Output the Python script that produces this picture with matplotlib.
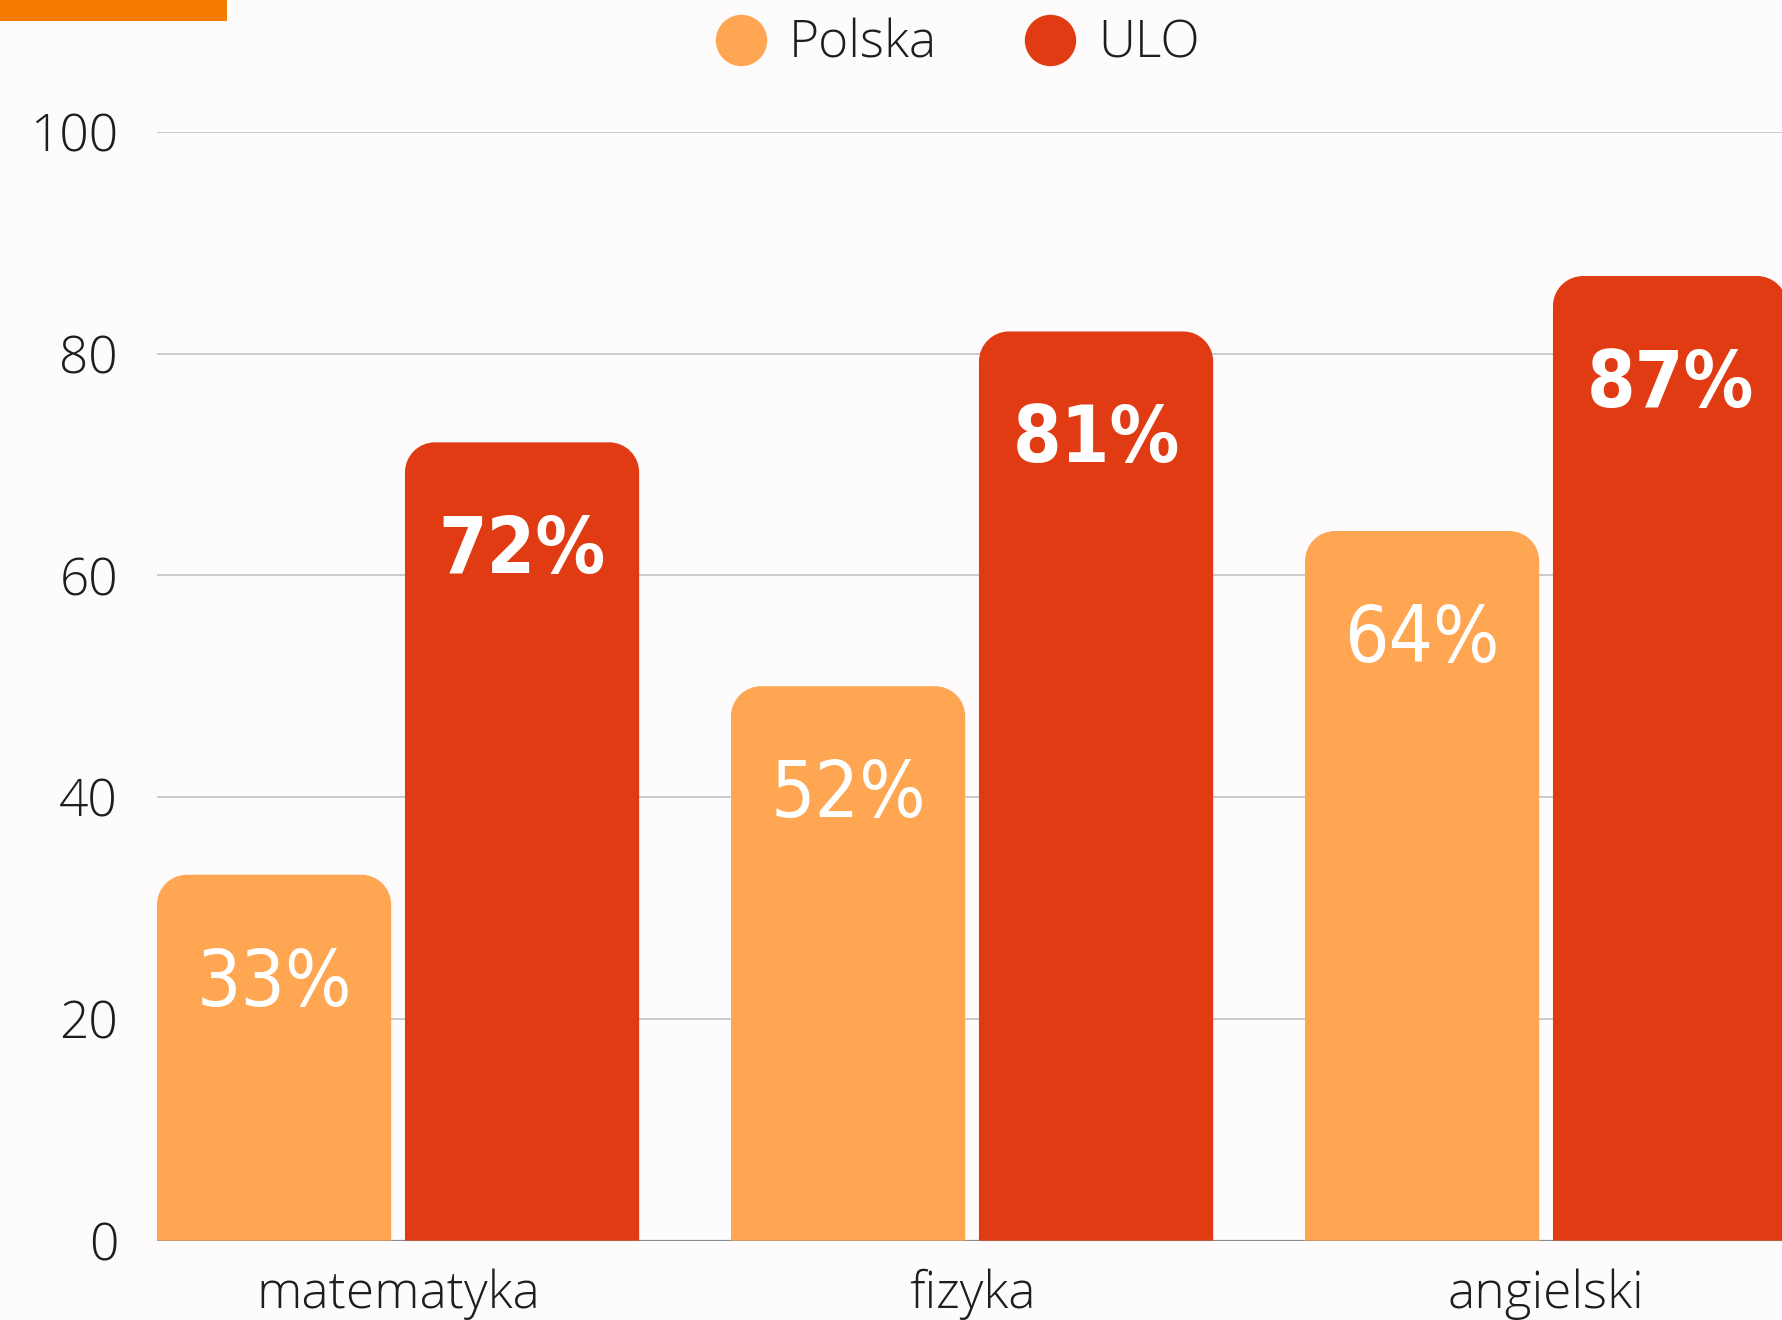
import matplotlib
matplotlib.use("Agg")
import matplotlib.pyplot as plt
import numpy as np
from matplotlib.path import Path
from matplotlib.patches import PathPatch, Rectangle
from matplotlib.lines import Line2D

# ---- data ----
categories = ["matematyka", "fizyka", "angielski"]
series_names = ["Polska", "ULO"]
polska_values = [33, 50, 64]
ulo_values = [72, 82, 87]
polska_labels = ["33%", "52%", "64%"]
ulo_labels = ["72%", "81%", "87%"]
y_ticks = [0, 20, 40, 60, 80, 100]

# ---- style ----
BG = "#fdfbfb"
C_POL = "#ffa652"
C_ULO = "#e03b12"
TICK_FONT = ["Open Sans", "DejaVu Sans"]
LABEL_FONT = ["DejaVu Sans"]

W, H, DPI = 17.83, 13.20, 100
fig = plt.figure(figsize=(W, H), dpi=DPI, facecolor=BG)
ax_left = 157 / 1783
ax_bottom = (1320 - 1240.6) / 1320
ax_h = (1240.6 - 131.9) / 1320
ax = fig.add_axes([ax_left, ax_bottom, 1 - ax_left, ax_h])
ax.set_facecolor(BG)

x = np.arange(len(categories))
bw = 0.408
off = 0.216
bars_p = ax.bar(x - off, polska_values, width=bw, color=C_POL, zorder=3)
bars_u = ax.bar(x + off, ulo_values, width=bw, color=C_ULO, zorder=3)

ax.set_xlim(-0.42, -0.42 + (1783 - 157) / 574.0)
ax.set_ylim(0, 100)

# rounded top corners (radius ~30 px)
px_per_x = (1783 - 157) / (ax.get_xlim()[1] - ax.get_xlim()[0])
px_per_y = (1240.6 - 131.9) / 100
rx = 30 / px_per_x
ry = 30 / px_per_y
k = 0.5523


def rounded_top(rect):
    x0 = rect.get_x()
    x1 = x0 + rect.get_width()
    y0 = rect.get_y()
    h = y0 + rect.get_height()
    verts = [
        (x0, y0), (x0, h - ry),
        (x0, h - ry + k * ry), (x0 + rx - k * rx, h), (x0 + rx, h),
        (x1 - rx, h),
        (x1 - rx + k * rx, h), (x1, h - ry + k * ry), (x1, h - ry),
        (x1, y0), (x0, y0),
    ]
    codes = [Path.MOVETO, Path.LINETO,
             Path.CURVE4, Path.CURVE4, Path.CURVE4,
             Path.LINETO,
             Path.CURVE4, Path.CURVE4, Path.CURVE4,
             Path.LINETO, Path.CLOSEPOLY]
    p = PathPatch(Path(verts, codes), facecolor=rect.get_facecolor(),
                  edgecolor="none", zorder=3)
    ax.add_patch(p)
    rect.set_visible(False)


for r in list(bars_p) + list(bars_u):
    rounded_top(r)

# value labels
for rect, lab in zip(bars_p, polska_labels):
    ax.text(rect.get_x() + rect.get_width() / 2, rect.get_height() - 11.8, lab,
            ha="center", va="baseline", color="white", fontsize=56,
            family=LABEL_FONT, fontweight="light", fontstretch="condensed",
            zorder=4)
for rect, lab in zip(bars_u, ulo_labels):
    ax.text(rect.get_x() + rect.get_width() / 2, rect.get_height() - 11.8, lab,
            ha="center", va="baseline", color="white", fontsize=56,
            family=LABEL_FONT, fontweight="bold", fontstretch="condensed",
            zorder=4)

# grid & axes
for t in y_ticks[1:]:
    ax.axhline(t, color="#c8c8c8", lw=1.3, zorder=1)
ax.axhline(0, color="#8a8a8a", lw=1.6, zorder=2)
for s in ax.spines.values():
    s.set_visible(False)
ax.set_yticks(y_ticks)
ax.set_yticklabels([str(v) for v in y_ticks])
ax.set_xticks(x)
ax.set_xticklabels(categories)
ax.tick_params(axis="both", length=0)
ax.tick_params(axis="y", pad=28)
ax.tick_params(axis="x", pad=20)
for lab in ax.get_yticklabels() + ax.get_xticklabels():
    lab.set_family(TICK_FONT)
    lab.set_fontweight("light")
    lab.set_fontsize(37)
    lab.set_color("#1e1e1e")

# legend
handles = [
    Line2D([], [], marker="o", linestyle="none", markersize=37,
           markerfacecolor=C_POL, markeredgecolor="none"),
    Line2D([], [], marker="o", linestyle="none", markersize=37,
           markerfacecolor=C_ULO, markeredgecolor="none"),
]
leg = fig.legend(handles, series_names, loc="center left",
                 bbox_to_anchor=(715 / 1783, 1 - 44 / 1320), ncol=2,
                 frameon=False, handlelength=1.0, handletextpad=0.44,
                 columnspacing=1.70, borderpad=0, borderaxespad=0,
                 prop={"family": TICK_FONT, "size": 37, "weight": "light"})
for t in leg.get_texts():
    t.set_color("#1e1e1e")

# orange accent bar at top-left
fig.add_artist(Rectangle((0, 1 - 21 / 1320), 227 / 1783, 21 / 1320,
                         transform=fig.transFigure, facecolor="#f57c00",
                         edgecolor="none"))

fig.savefig("out.png", dpi=DPI, facecolor=BG)
